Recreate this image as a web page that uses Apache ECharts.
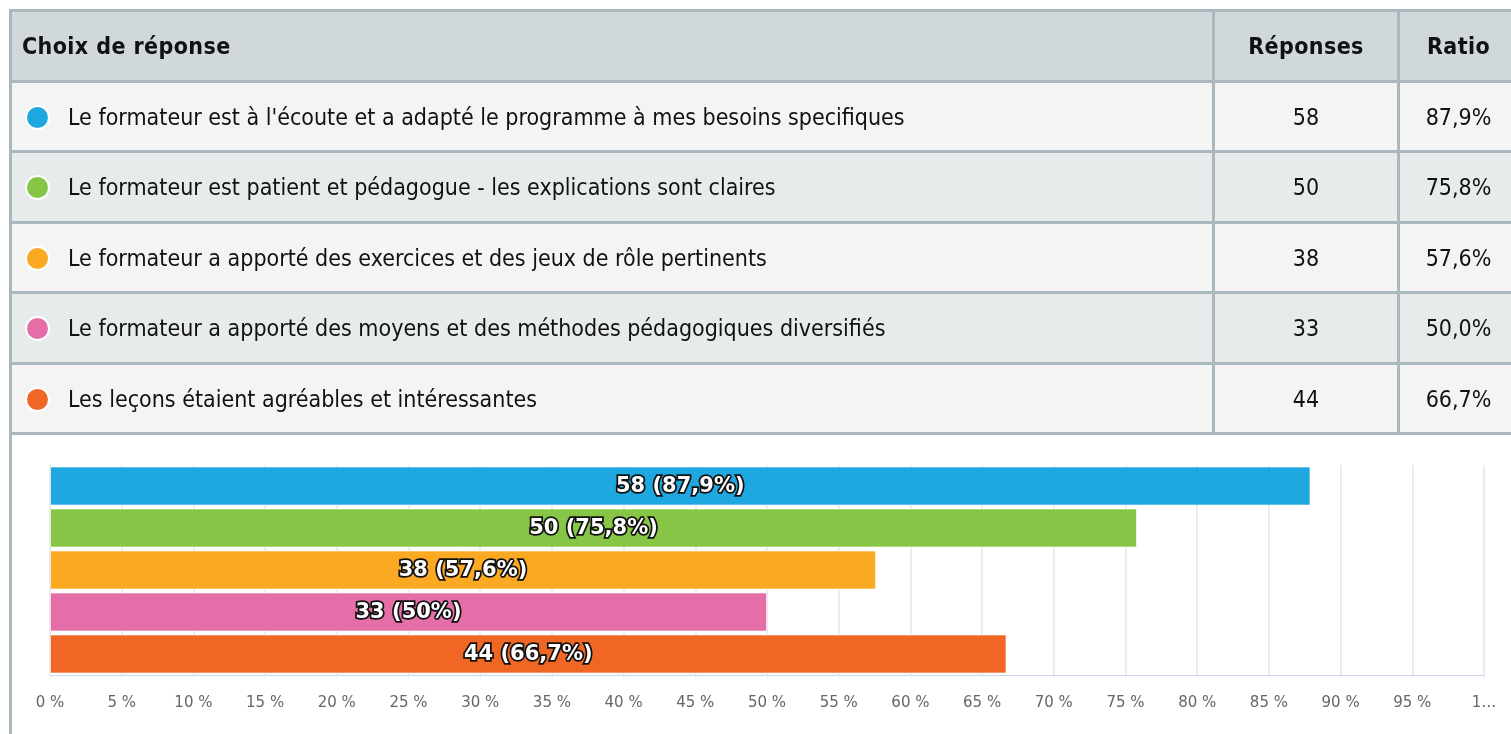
<!DOCTYPE html>
<html>
<head>
<meta charset="utf-8">
<script src="https://cdn.jsdelivr.net/npm/echarts@6/dist/echarts.min.js"></script>
<style>
  html, body { margin: 0; padding: 0; width: 1511px; height: 734px; overflow: hidden; background: #fff; }
  #table { position: absolute; left: 0; top: 0; width: 1511px; height: 440px; font-family: "Liberation Sans Narrow", "DejaVu Sans Condensed", sans-serif; color: #111; }
  .cell { position: absolute; box-sizing: border-box; display: flex; align-items: center; font-size: 23px; white-space: nowrap; }
  .hline { position: absolute; left: 9px; width: 1520px; height: 3px; background: #aab7bc; }
  .vline { position: absolute; width: 3px; background: #aab7bc; }
  .dot { position: absolute; width: 21px; height: 21px; border-radius: 50%; box-shadow: 0 0 0 2px #fff; }
  #chart { position: absolute; left: 0; top: 0; width: 1511px; height: 734px; }
</style>
</head>
<body>
<div id="chart"></div>
<div id="table"></div>
<script>
var headers = ['Choix de réponse', 'Réponses', 'Ratio'];
var categories = [
  "Le formateur est à l'écoute et a adapté le programme à mes besoins specifiques",
  "Le formateur est patient et pédagogue - les explications sont claires",
  "Le formateur a apporté des exercices et des jeux de rôle pertinents",
  "Le formateur a apporté des moyens et des méthodes pédagogiques diversifiés",
  "Les leçons étaient agréables et intéressantes"
];
var responses = [58, 50, 38, 33, 44];
var ratios = [87.9, 75.8, 57.6, 50.0, 66.7];

var palette = ['#1fa8df', '#86c545', '#fba823', '#e56ea9', '#f06625'];

// ---- table (html) ----
var tbl = document.getElementById('table');
var lineY = [9, 80, 150, 221, 291, 362, 432];

function add(txt, cls, css) {
  var d = document.createElement('div');
  d.className = cls;
  d.style.cssText = css;
  if (txt !== null) d.textContent = txt;
  tbl.appendChild(d);
  return d;
}

for (var r = 0; r < 6; r++) {
  var ty = lineY[r] + 3, h = lineY[r + 1] - ty;
  var pos = 'top:' + ty + 'px;height:' + h + 'px;';
  var bg = r === 0 ? '#d0d8db' : (r % 2 === 1 ? '#f4f4f4' : '#e8ebec');
  add(null, 'cell', pos + 'left:9px;width:1520px;background:' + bg);
  if (r === 0) {
    var hs = 'font-weight:bold;letter-spacing:0.4px;';
    add(headers[0], 'cell', hs + pos + 'left:22px;');
    add(headers[1], 'cell', hs + pos + 'justify-content:center;left:1215px;width:182px;');
    add(headers[2], 'cell', hs + pos + 'justify-content:center;left:1400px;width:117px;');
  } else {
    var k = r - 1;
    add(null, 'dot', 'left:27px;top:' + (ty + h / 2 - 10) + 'px;background:' + palette[k]);
    add(categories[k], 'cell', pos + 'left:68px;');
    add(String(responses[k]), 'cell', pos + 'justify-content:center;left:1215px;width:182px;');
    add(ratios[k].toFixed(1).replace('.', ',') + '%', 'cell', pos + 'justify-content:center;left:1400px;width:117px;');
  }
}
lineY.forEach(function (y) { add(null, 'hline', 'top:' + y + 'px'); });
add(null, 'vline', 'left:9px;top:9px;height:740px');
add(null, 'vline', 'left:1212px;top:9px;height:426px');
add(null, 'vline', 'left:1397px;top:9px;height:426px');

// ---- chart ----
var myChart = echarts.init(document.getElementById('chart'));
var option = {
  animation: false,
  grid: { left: 50, right: 27, top: 465, bottom: 59 },
  xAxis: {
    type: 'value',
    min: 0,
    max: 100,
    interval: 5,
    axisLine: { show: true, lineStyle: { color: '#ccd6eb' } },
    axisTick: { show: true, length: 3, lineStyle: { color: '#dfe5ee' } },
    splitLine: { show: true, lineStyle: { color: '#e6e6e6', width: 1.5 } },
    axisLabel: {
      color: '#666',
      fontSize: 15,
      fontFamily: 'DejaVu Sans',
      margin: 21,
      formatter: function (v) { return v === 100 ? '1…' : v + ' %'; }
    }
  },
  yAxis: {
    type: 'category',
    inverse: true,
    data: categories,
    axisLine: { show: true, lineStyle: { color: '#dde4ee' } },
    axisTick: { show: false },
    axisLabel: { show: false }
  },
  series: [{
    type: 'bar',
    barWidth: 39,
    data: ratios.map(function (v, i) {
      return { value: v, itemStyle: { color: palette[i], borderColor: 'rgba(255,255,255,0.6)', borderWidth: 1 } };
    }),
    label: {
      show: true,
      position: 'inside',
      offset: [0, 1],
      color: '#fff',
      fontFamily: 'DejaVu Sans',
      fontWeight: 'bold',
      fontSize: 21,
      textBorderColor: '#111',
      textBorderWidth: 3.5,
      formatter: function (p) {
        return responses[p.dataIndex] + ' (' + String(ratios[p.dataIndex]).replace('.', ',') + '%)';
      }
    }
  }]
};
myChart.setOption(option);
</script>
</body>
</html>
